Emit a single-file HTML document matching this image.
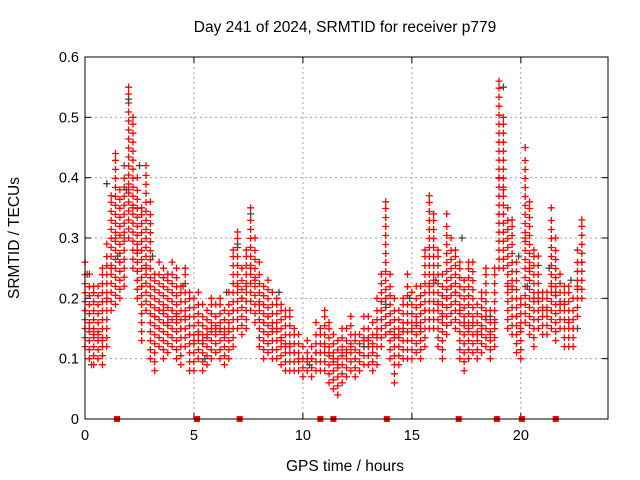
<!DOCTYPE html>
<html><head><meta charset="utf-8"><style>
body{margin:0;background:#fff;}
svg{display:block;font-family:"Liberation Sans",sans-serif;}
</style></head><body>
<svg id="chart" width="640" height="480">
<text x="345" y="32" text-anchor="middle" font-size="15.5">Day 241 of 2024, SRMTID for receiver p779</text>
<text x="345" y="471" text-anchor="middle" font-size="15.5">GPS time / hours</text>
<text transform="translate(19,238) rotate(-90)" text-anchor="middle" font-size="15.5">SRMTID / TECUs</text>
<g id="grid"></g><g id="axes"></g><g id="marks"></g>
<rect x="85" y="57" width="523" height="362" fill="none" stroke="#000" stroke-width="1"/>
</svg>
<script>
const xTicks=[0,5,10,15,20];
const yTicks=[0,0.1,0.2,0.3,0.4,0.5,0.6];
const yTickLabels=["0","0.1","0.2","0.3","0.4","0.5","0.6"];
const tStart=0, tStep=0.2;
const redHi=[.26,.24,.22,.22,.25,.29,.37,.44,.38,.42,.55,.50,.40,.35,.42,.36,.24,.26,.25,.24,.26,.25,.22,.25,.21,.20,.21,.19,.18,.20,.19,.20,.18,.21,.28,.31,.25,.28,.35,.30,.26,.22,.23,.21,.20,.19,.18,.18,.15,.14,.12,.13,.12,.16,.15,.18,.16,.14,.13,.15,.15,.17,.14,.14,.17,.17,.16,.20,.24,.36,.24,.20,.18,.20,.24,.21,.22,.22,.28,.37,.34,.28,.24,.34,.30,.28,.26,.23,.26,.26,.19,.21,.25,.18,.25,.56,.50,.35,.33,.26,.20,.45,.36,.28,.27,.21,.21,.35,.30,.24,.22,.22,.20,.28,.33];
const redMid=[.18,.15,.14,.14,.13,.20,.25,.30,.26,.30,.38,.35,.28,.22,.25,.22,.17,.18,.18,.16,.18,.17,.15,.17,.14,.13,.14,.13,.14,.15,.15,.15,.14,.15,.18,.22,.20,.22,.25,.23,.19,.16,.17,.15,.15,.13,.12,.12,.11,.10,.10,.10,.10,.11,.11,.12,.11,.10,.09,.11,.11,.12,.10,.11,.13,.13,.12,.14,.18,.20,.16,.14,.14,.15,.16,.15,.16,.15,.18,.22,.23,.19,.17,.20,.22,.21,.18,.16,.15,.16,.14,.15,.17,.14,.16,.40,.38,.22,.22,.17,.15,.30,.25,.20,.20,.18,.18,.22,.21,.19,.19,.16,.15,.22,.26];
const redLo=[.12,.10,.09,.10,.09,.12,.18,.19,.20,.22,.30,.25,.20,.13,.18,.10,.08,.12,.10,.11,.12,.10,.09,.12,.08,.08,.10,.08,.09,.10,.11,.10,.09,.10,.12,.15,.14,.15,.18,.16,.12,.10,.11,.10,.10,.09,.08,.08,.08,.08,.07,.08,.07,.08,.08,.08,.06,.05,.04,.06,.07,.08,.07,.08,.09,.09,.08,.09,.12,.14,.10,.06,.09,.10,.10,.10,.11,.10,.12,.15,.15,.12,.10,.14,.16,.15,.10,.08,.10,.11,.10,.11,.12,.10,.12,.25,.25,.15,.14,.11,.10,.16,.14,.12,.15,.14,.14,.15,.13,.15,.12,.12,.12,.17,.20];
const grayT=[0.1,0.3,1.0,1.5,1.9,2.0,2.5,3.1,4.5,5.5,6.5,7.0,7.6,8.9,10.3,12.8,13.8,14.9,16.1,17.3,18.6,19.2,19.9,20.3,21.3,22.3,22.6];
const grayV=[.24,.09,.39,.27,.38,.53,.42,.27,.22,.10,.21,.29,.34,.21,.09,.12,.19,.20,.23,.30,.17,.55,.27,.22,.25,.23,.15];
const outageT=[1.47,5.14,7.1,10.8,11.4,13.85,17.15,18.9,20.05,21.6];
const X0=85,X1=608,Y0=419,Y1=57;
const xs=t=>X0+t/24*(X1-X0);
const ys=v=>Y0-v/0.6*(Y0-Y1);
const NS="http://www.w3.org/2000/svg";
function mk(tag,attrs,parent){const e=document.createElementNS(NS,tag);for(const k in attrs)e.setAttribute(k,attrs[k]);parent.appendChild(e);return e;}
const grid=document.getElementById('grid'),axes=document.getElementById('axes'),marks=document.getElementById('marks');
xTicks.forEach(t=>{const x=xs(t);
 if(t>0){const g=mk('line',{x1:x,x2:x,y1:Y0,y2:Y1,stroke:'#a0a0a0','stroke-dasharray':'2,3'},grid);
 
 }
 mk('line',{x1:x,x2:x,y1:Y0,y2:Y0-6,stroke:'#000'},axes);
 mk('line',{x1:x,x2:x,y1:Y1,y2:Y1+6,stroke:'#000'},axes);
 const l=mk('text',{x:x,y:Y0+21,'text-anchor':'middle','font-size':14.5},axes);l.textContent=t;
 
 
});
yTicks.forEach((v,i)=>{const y=ys(v);
 if(v>0&&v<0.6){const g=mk('line',{x1:X0,x2:X1,y1:y,y2:y,stroke:'#a0a0a0','stroke-dasharray':'2,3'},grid);
 
 }
 mk('line',{x1:X0,x2:X0+6,y1:y,y2:y,stroke:'#000'},axes);
 mk('line',{x1:X1,x2:X1-6,y1:y,y2:y,stroke:'#000'},axes);
 const l=mk('text',{x:X0-6,y:y+5,'text-anchor':'end','font-size':14.5},axes);l.textContent=yTickLabels[i];
 
 
});
function plus(x,y,c,name){const p=mk('path',{d:`M${x-3.5},${y}h7M${x},${y-3.5}v7`,stroke:c,'stroke-width':1.3,fill:'none'},marks);
 
 }
// each time column rendered as a sparse streak of crosses spanning its observed range
redHi.forEach((hi,i)=>{
 const x=xs(tStart+i*tStep), yTop=ys(hi), yBot=ys(redLo[i]);
 for(let y=yBot-9;y>yTop+4;y-=9){plus(x,y,'#f00','red-streak-point');}
});
grayT.forEach((t,i)=>plus(xs(t),ys(grayV[i]),'#444','gray-point'));
[redHi,redMid,redLo].forEach(arr=>arr.forEach((v,i)=>plus(xs(tStart+i*tStep),ys(v),'#f00','red-point')));
outageT.forEach(t=>{const r=mk('rect',{x:xs(t)-3,y:Y0-3,width:6,height:6,fill:'#f00'},marks);
 
 });
</script>
</body></html>
